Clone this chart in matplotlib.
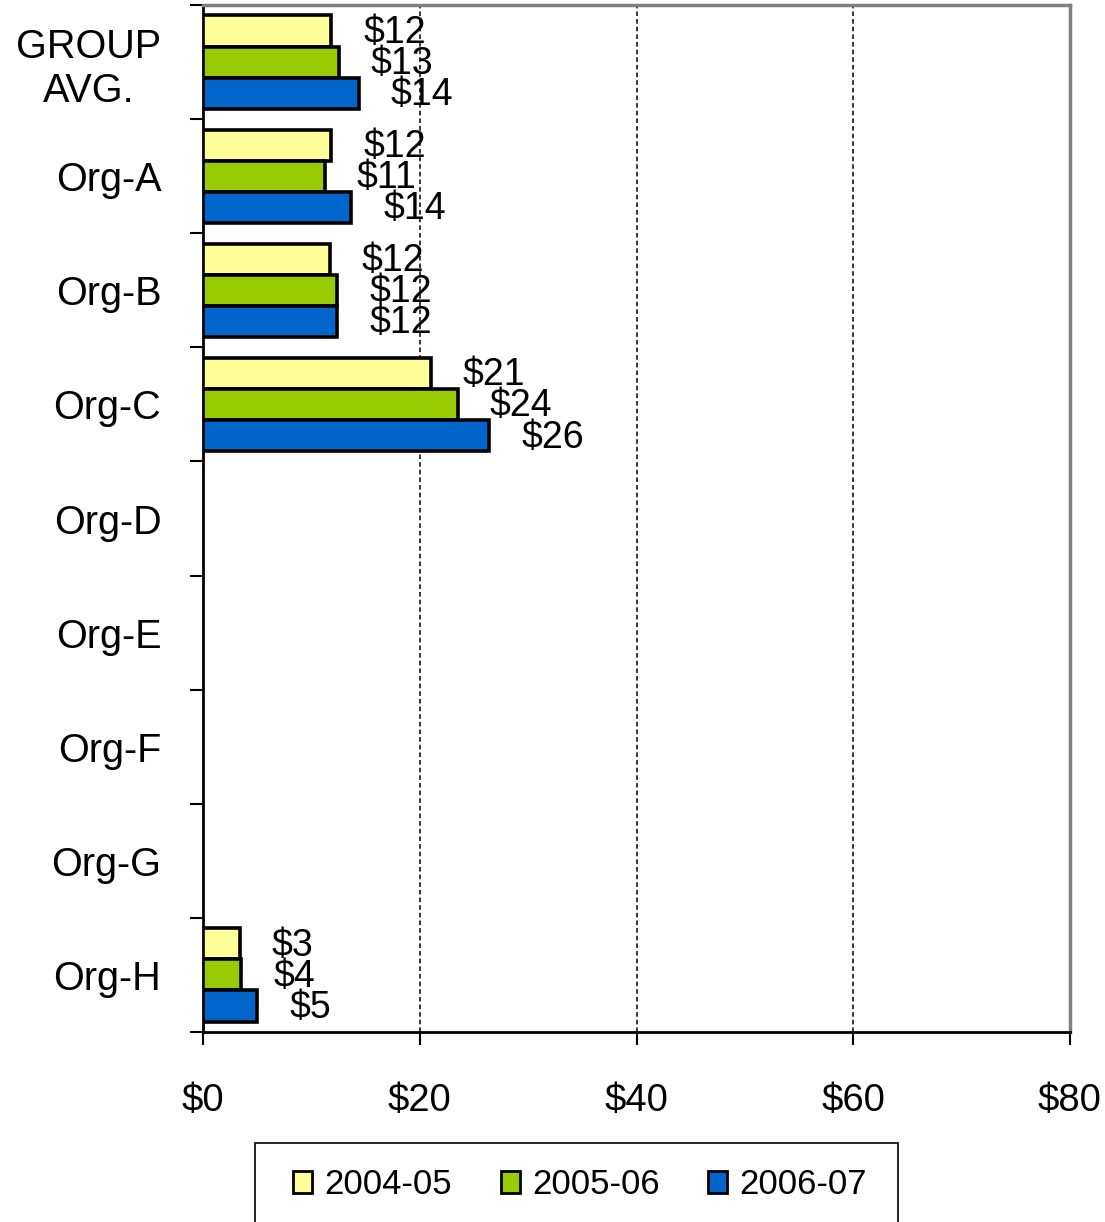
import matplotlib
matplotlib.use("Agg")
import matplotlib.pyplot as plt
import numpy as np
from matplotlib.patches import Rectangle

categories = ["GROUP\nAVG.", "Org-A", "Org-B", "Org-C", "Org-D", "Org-E", "Org-F", "Org-G", "Org-H"]
series_names = ["2004-05", "2005-06", "2006-07"]
v_2004_05 = [11.85, 11.85, 11.7, 21.0, None, None, None, None, 3.4]
v_2005_06 = [12.55, 11.25, 12.4, 23.5, None, None, None, None, 3.55]
v_2006_07 = [14.4, 13.7, 12.4, 26.4, None, None, None, None, 5.0]
x_ticks = [0, 20, 40, 60, 80]
x_tick_labels = ["$0", "$20", "$40", "$60", "$80"]

colors = ["#FFFF99", "#99CC00", "#0066CC"]

plt.rcParams["font.family"] = ["Liberation Sans", "DejaVu Sans"]

W, H = 1105, 1222
fig = plt.figure(figsize=(W / 100, H / 100), dpi=100)
ax = fig.add_axes([203 / W, 1 - 1032 / H, (1070 - 203) / W, (1032 - 5) / H])

bh = 0.272
series = [v_2004_05, v_2005_06, v_2006_07]
for k, (vals, col, name) in enumerate(zip(series, colors, series_names)):
    ys = [i + (k - 1) * bh for i, v in enumerate(vals) if v is not None]
    ws = [v for v in vals if v is not None]
    ax.barh(ys, ws, height=bh, color=col, edgecolor="black", linewidth=2.6, zorder=3)
    for y, w in zip(ys, ws):
        ax.annotate(f"${w:.0f}", xy=(w, y), xytext=(23, -1.5), textcoords="offset points",
                    ha="left", va="center", fontsize=27, zorder=4)

ax.set_xlim(0, 80)
ax.set_ylim(len(categories) - 0.5, -0.5)

ax.set_xticks(x_ticks)
ax.set_xticklabels(x_tick_labels, fontsize=27.5)
ax.tick_params(axis="x", direction="out", length=9, width=1.5, pad=28)

ax.set_yticks(np.arange(-0.5, len(categories), 1))
ax.set_yticklabels([])
ax.set_yticks(np.arange(len(categories)), minor=True)
ax.set_yticklabels(categories, minor=True, fontsize=28.5, multialignment="center")
ax.tick_params(axis="y", which="major", direction="out", length=9.5, width=1.5)
ax.tick_params(axis="y", which="minor", length=0, pad=30)

ax.xaxis.grid(True, linestyle=(0, (3, 2)), color="black", linewidth=1.1)
ax.set_axisbelow(True)

for s in ["left", "bottom"]:
    ax.spines[s].set_color("black")
    ax.spines[s].set_linewidth(2)
for s in ["top", "right"]:
    ax.spines[s].set_color("#808080")
    ax.spines[s].set_linewidth(2.5)

handles = [Rectangle((0, 0), 1, 1, facecolor=c, edgecolor="black", linewidth=2) for c in colors]
fig.legend(handles, series_names, loc="center", bbox_to_anchor=(580 / W, 1 - 1185 / H),
           ncol=3, frameon=False, fontsize=25, handlelength=0.55, handleheight=0.58,
           handletextpad=0.35, columnspacing=1.4, borderpad=0)
fig.patches.append(Rectangle((255 / W, -0.02), (898 - 255) / W, (1222 - 1143) / H + 0.02,
                             transform=fig.transFigure, fill=False, edgecolor="black",
                             linewidth=1.2))

fig.savefig("out.png", dpi=100)
